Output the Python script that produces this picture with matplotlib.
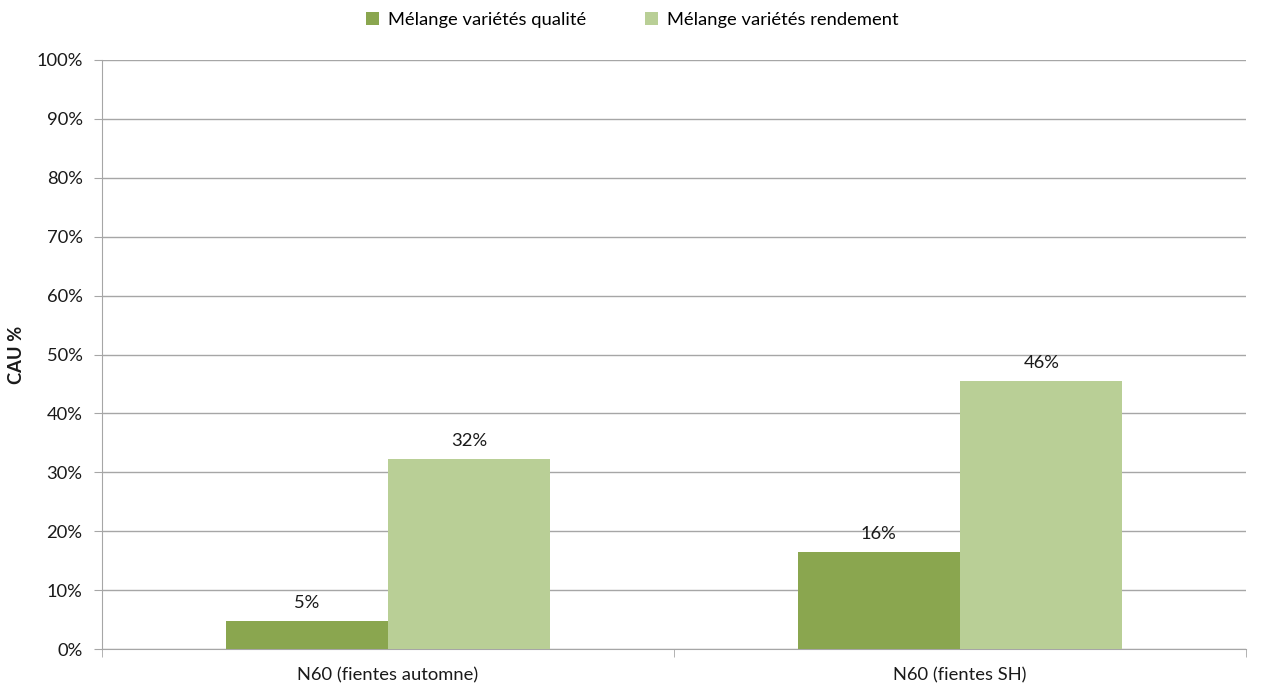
import matplotlib
matplotlib.use("Agg")
import matplotlib.pyplot as plt
import numpy as np
from matplotlib.ticker import FuncFormatter, FixedLocator

plt.rcParams['font.family'] = ['Lato', 'DejaVu Sans']

categories = ["N60 (fientes automne)", "N60 (fientes SH)"]
series_names = ["Mélange variétés qualité", "Mélange variétés rendement"]
qualite = [0.048, 0.165]
rendement = [0.323, 0.455]
labels_q = ["5%", "16%"]
labels_r = ["32%", "46%"]
colors = ["#8AA64F", "#B9CF96"]

fig = plt.figure(figsize=(12.65, 6.88), dpi=100)
ax = fig.add_axes([102/1265, 1 - 649/688, (1246-102)/1265, (649-60)/688])

x = np.arange(len(categories))
w = 0.284
b1 = ax.bar(x - w/2, qualite, w, color=colors[0], label=series_names[0], zorder=3)
b2 = ax.bar(x + w/2, rendement, w, color=colors[1], label=series_names[1], zorder=3)

fs = 13.2
for bars, labs in ((b1, labels_q), (b2, labels_r)):
    for r, t in zip(bars, labs):
        ax.annotate(t, (r.get_x() + r.get_width()/2, r.get_height()),
                    xytext=(0, 7), textcoords="offset points",
                    ha="center", va="bottom", fontsize=fs, color="#1a1a1a")

ax.set_xlim(-0.5, 1.5)
ax.set_ylim(0, 1.0)
ax.set_yticks(np.arange(0, 1.01, 0.1))
ax.yaxis.set_major_formatter(FuncFormatter(lambda v, p: f"{v*100:.0f}%"))
ax.yaxis.grid(True, color="#A6A6A6", linewidth=1)
ax.set_axisbelow(True)

ax.set_xticks(x)
ax.set_xticklabels(categories, fontsize=fs, color="#1a1a1a")
ax.xaxis.set_minor_locator(FixedLocator([-0.5, 0.5, 1.5]))
ax.tick_params(axis="x", which="major", length=0, pad=13)
ax.tick_params(axis="x", which="minor", length=6, color="#A6A6A6")
ax.tick_params(axis="y", length=6, color="#A6A6A6", labelsize=fs, labelcolor="#1a1a1a", pad=8)

for s in ["top", "right"]:
    ax.spines[s].set_visible(False)
for s in ["left", "bottom"]:
    ax.spines[s].set_color("#A6A6A6")

ax.set_ylabel("CAU %", fontsize=fs, fontweight="bold", labelpad=8, color="#1a1a1a")

fig.legend(handles=[b1, b2], labels=series_names, loc="center", bbox_to_anchor=(0.5, 1 - 20/688),
           ncol=2, frameon=False, fontsize=fs, handlelength=0.7, handleheight=0.7,
           columnspacing=3.2, handletextpad=0.5)

fig.savefig("out.png", dpi=100)
